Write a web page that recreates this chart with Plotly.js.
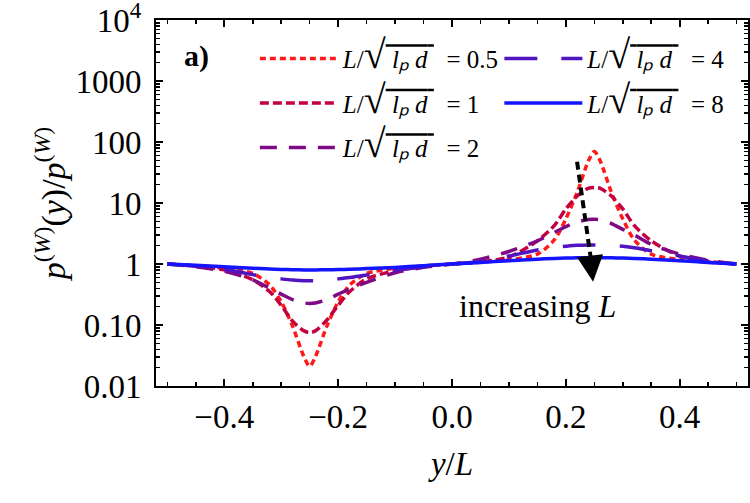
<!DOCTYPE html>
<html>
<head>
<meta charset="utf-8">
<script src="https://cdn.plot.ly/plotly-3.0.1.min.js"></script>
<style>html,body{margin:0;padding:0;background:#fff;overflow:hidden;}</style>
</head>
<body>
<div id="chart" style="width:750px;height:503px;"></div>
<script>
// x positions y/L
const yOverL = [-0.5,-0.45,-0.4,-0.35,-0.32,-0.3,-0.28,-0.26,-0.25,-0.24,-0.22,-0.2,-0.18,-0.15,-0.1,-0.05,0,
                0.05,0.1,0.15,0.18,0.2,0.22,0.24,0.25,0.26,0.28,0.3,0.32,0.35,0.4,0.45,0.5];
// series values p^(W)(y)/p^(W)
const ratio_L05 = [1.0,0.93,0.85,0.70,0.45,0.24,0.095,0.03,0.021,0.03,0.095,0.24,0.45,0.70,0.85,0.93,1.0,
                   1.07,1.18,1.45,2.5,5.5,15,50,70,50,15,5.5,2.5,1.45,1.18,1.07,1.0];
const ratio_L1  = [1.0,0.92,0.80,0.55,0.35,0.21,0.115,0.08,0.075,0.08,0.12,0.21,0.35,0.57,0.78,0.92,1.0,
                   1.08,1.3,2.4,4.3,8.0,13,17.5,18,17.5,13,8.0,4.3,2.4,1.35,1.1,1.0];
const ratio_L2  = [1.0,0.90,0.76,0.55,0.40,0.32,0.26,0.23,0.226,0.23,0.26,0.32,0.39,0.50,0.72,0.88,1.0,
                   1.2,1.6,2.4,3.3,4.1,4.9,5.35,5.4,5.3,4.6,3.7,3.0,2.1,1.45,1.15,1.0];
const ratio_L4  = [1.0,0.92,0.82,0.67,0.60,0.57,0.545,0.53,0.53,0.53,0.545,0.57,0.60,0.66,0.78,0.89,1.0,
                   1.1,1.35,1.7,1.87,1.95,2.02,2.05,2.05,2.05,2.02,1.95,1.85,1.65,1.35,1.12,1.0];
const ratio_L8  = [1.0,0.95,0.90,0.85,0.83,0.815,0.805,0.80,0.80,0.80,0.805,0.81,0.82,0.84,0.88,0.94,1.0,
                   1.06,1.13,1.2,1.23,1.25,1.265,1.27,1.27,1.27,1.265,1.25,1.23,1.2,1.13,1.06,1.0];
const seriesLabels = ['0.5','1','2','4','8'];
const yTickVals = [0.01,0.1,1,10,100,1000,10000];
const yTickText = ['0.01','0.10','1','10','100','1000','10<sup>4</sup>'];
const yMinorMantissas = [2,3,4,5,6,7,8,9];
const yMinorDecades = [0.01,0.1,1,10,100,1000];
// "increasing L" arrow (annotation, not data)
const arrowX = [0.2197, 0.2435];
const arrowY = [47.5, 1.3];
const arrowTip = {x: 0.2478, y: 0.51};

const yMinorVals = [];
yMinorDecades.forEach(d => yMinorMantissas.forEach(m => yMinorVals.push(d*m)));

const FONT = 'Liberation Serif, Times New Roman, serif';
function lab(v){
  return '<i>L</i>/<span style="font-size:40px">√</span><span style="text-decoration:overline">\u00a0<i>lₚ\u00a0d</i>\u00a0</span>\u00a0\u00a0= ' + v;
}
const allY = [ratio_L05, ratio_L1, ratio_L2, ratio_L4, ratio_L8];
const colors = ['#ff1a1a','#c2003f','#7f0a86','#5014c0','#1414ff'];
const dashes = ['6px,4px','9px,4px','17px,12px','33px,24px','solid'];
const legends = ['legend','legend','legend','legend2','legend2'];

const traces = allY.map((ys,i)=>({
  x: yOverL, y: ys, type:'scatter', mode:'lines',
  name: lab(seriesLabels[i]),
  line:{color:colors[i], width:3.5, dash:dashes[i], shape:'spline', smoothing:0.8},
  legend: legends[i], legendgroup: 'g'+i
}));
traces.push({
  x: arrowX, y: arrowY, type:'scatter', mode:'lines', showlegend:false, hoverinfo:'skip',
  line:{color:'#000', width:4, dash:'8px,5px'}
});

const legendCommon = {xanchor:'left', yanchor:'top', bgcolor:'rgba(0,0,0,0)',
  font:{family:FONT, size:25, color:'#000'}, itemwidth:78, tracegroupgap:9, traceorder:'grouped'};

const layout = {
  width:750, height:503,
  margin:{l:156, r:2, t:20, b:117},
  paper_bgcolor:'#fff', plot_bgcolor:'#fff',
  font:{family:FONT, color:'#000', size:32},
  showlegend:true,
  xaxis:{
    range:[-0.52,0.52], tick0:0, dtick:0.2, tickformat:'.1f',
    ticks:'inside', ticklen:7, tickwidth:2, tickcolor:'#000',
    minor:{dtick:0.05, tick0:0, ticks:'inside', ticklen:4, tickwidth:1.5, tickcolor:'#000'},
    showline:true, linecolor:'#000', linewidth:2, mirror:'ticks',
    showgrid:false, zeroline:false, ticklabeloverflow:'allow',
    tickfont:{family:FONT, size:33, color:'#000'},
    title:{text:'<i>y</i>/<i>L</i>', font:{family:FONT, size:33, color:'#000'}, standoff:18}
  },
  yaxis:{
    type:'log', range:[-2.0005,4.0005], tickmode:'array', tickvals:yTickVals, ticktext:yTickText,
    ticks:'inside', ticklen:7, tickwidth:2, tickcolor:'#000',
    minor:{tickmode:'array', tickvals:yMinorVals, ticks:'inside', ticklen:4, tickwidth:1.5, tickcolor:'#000'},
    showline:true, linecolor:'#000', linewidth:2, mirror:'ticks',
    showgrid:false, zeroline:false, ticklabeloverflow:'allow',
    tickfont:{family:FONT, size:33, color:'#000'},
    ticklabelstandoff:6,
    title:{text:'<i>p</i><sup>(<i>W</i>)</sup>(<i>y</i>)/<i>p</i><sup>(<i>W</i>)</sup>', font:{family:FONT, size:34, color:'#000'}, standoff:0}
  },
  legend: Object.assign({x:0.167, y:0.957}, legendCommon),
  legend2: Object.assign({x:0.58, y:0.957}, legendCommon),
  annotations:[
    {xref:'paper', yref:'paper', x:0.068, y:0.902, text:'<b>a)</b>', showarrow:false,
     font:{family:FONT, size:30, color:'#000'}, xanchor:'center', yanchor:'middle'},
    {xref:'x', yref:'y', x:0.15, y:Math.log10(0.205), text:'increasing <i>L</i>', showarrow:false,
     font:{family:FONT, size:32, color:'#000'}, xanchor:'center', yanchor:'middle'},
    {xref:'x', yref:'y', x:arrowTip.x, y:Math.log10(arrowTip.y), text:'', showarrow:true,
     ax:-3, ay:-26, arrowhead:2, arrowsize:1.5, arrowwidth:3.5, arrowcolor:'#000', standoff:0}
  ]
};
Plotly.newPlot('chart', traces, layout, {displayModeBar:false, staticPlot:true});
</script>
</body>
</html>
